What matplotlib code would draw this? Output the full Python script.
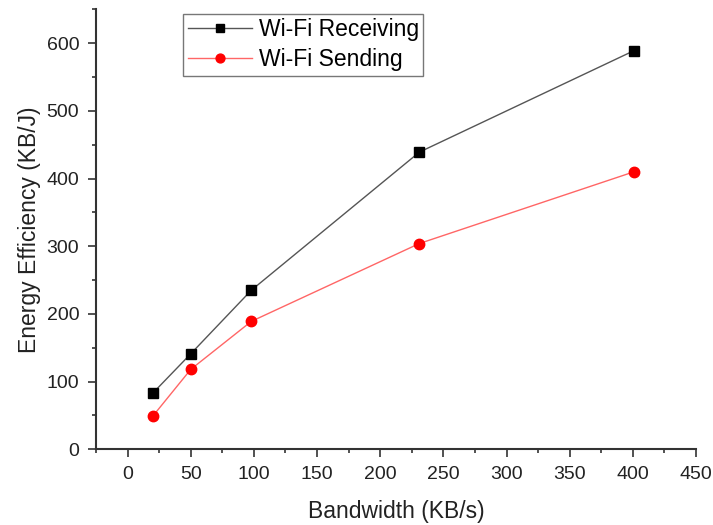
import matplotlib
matplotlib.use("Agg")
import matplotlib.pyplot as plt
from matplotlib.ticker import MultipleLocator

plt.rcParams['font.family'] = ['Liberation Sans', 'DejaVu Sans']

bandwidth = [20, 50, 98, 231, 401]
receiving = [83, 141, 235, 439, 589]
sending = [49, 118, 189, 304, 410]

fig = plt.figure(figsize=(7.13, 5.25), dpi=100)
ax = fig.add_axes([0.1346, 0.1442, 0.8416, 0.8381])

ax.plot(bandwidth, receiving, color='#555555', lw=1.0, marker='s', ms=6.5,
        mfc='black', mec='black', label='Wi-Fi Receiving')
ax.plot(bandwidth, sending, color='#ff6666', lw=1.0, marker='o', ms=7.5,
        mfc='red', mec='red', label='Wi-Fi Sending')

ax.set_xlim(-25, 450)
ax.set_ylim(0, 650)
ax.xaxis.set_major_locator(MultipleLocator(50))
ax.xaxis.set_minor_locator(MultipleLocator(25))
ax.yaxis.set_major_locator(MultipleLocator(100))
ax.yaxis.set_minor_locator(MultipleLocator(50))
ax.set_xticks(range(0, 451, 50))

for s in ['top', 'right']:
    ax.spines[s].set_visible(False)
for s in ['left', 'bottom']:
    ax.spines[s].set_color('#333333')
    ax.spines[s].set_linewidth(1.5)

ax.tick_params(which='major', direction='out', length=6, width=1.2, color='#333333',
               labelsize=14, labelcolor='#222222', pad=6)
ax.tick_params(which='minor', direction='out', length=3, width=1.2, color='#333333')

ax.set_xlabel('Bandwidth (KB/s)', fontsize=16.5, color='#222222', labelpad=12)
ax.set_ylabel('Energy Efficiency (KB/J)', fontsize=16.5, color='#222222', labelpad=4)

leg = ax.legend(loc='upper left', bbox_to_anchor=(0.145, 0.99), fontsize=16.5,
                frameon=True, fancybox=False, edgecolor='#555555', borderpad=0.2,
                handlelength=2.8, handletextpad=0.3, labelspacing=0.31,
                borderaxespad=0, markerscale=0.85)
leg.get_frame().set_linewidth(1.0)

fig.savefig('out.png', dpi=100)
